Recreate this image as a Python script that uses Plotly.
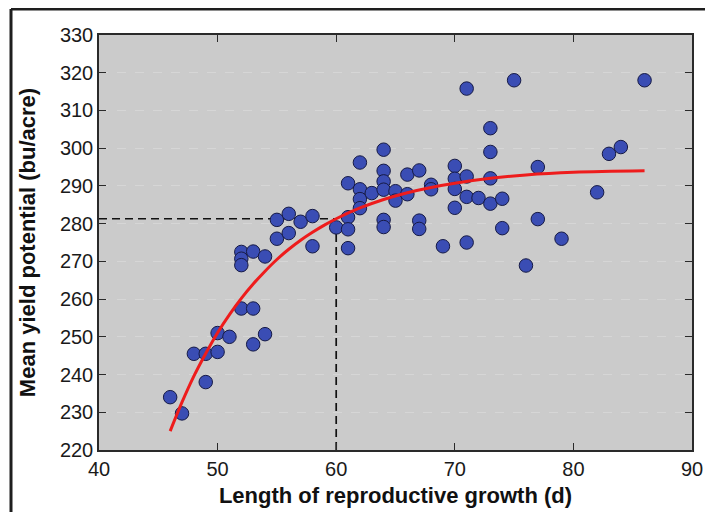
import plotly.graph_objects as go

growth_days = [46, 47, 48, 49, 49, 50, 50, 51,
               52, 52, 52, 52, 53, 53, 53, 54, 54,
               55, 55, 56, 56, 57, 58, 58, 60,
               61, 61, 61, 61, 62, 62, 62, 62, 63,
               64, 64, 64, 64, 64, 64, 65, 65, 66, 66,
               67, 67, 67, 68, 68, 69,
               70, 70, 70, 70, 71, 71, 71, 71, 72,
               73, 73, 73, 73, 74, 74, 75, 76, 77, 77,
               79, 82, 83, 84, 86]
yield_potential = [234, 229.7, 245.5, 245.5, 238, 246, 251, 250,
                   257.5, 272.5, 270.7, 269, 257.5, 248, 272.6, 250.7, 271.3,
                   276, 281, 277.5, 282.6, 280.5, 282, 274, 279,
                   281.7, 278.5, 273.5, 290.7, 296.2, 289.1, 286.5, 284.1, 288.1,
                   299.6, 294, 291.2, 289, 281, 279.1, 288.6, 286.1, 293, 287.8,
                   294.1, 280.8, 278.6, 290.3, 289.1, 274,
                   295.3, 291.9, 289.2, 284.2, 315.8, 292.5, 287.1, 275, 286.8,
                   305.3, 299, 292, 285.3, 286.6, 278.8, 318, 268.9, 295, 281.2,
                   276, 288.3, 298.5, 300.3, 318]

# Fitted response curve
curve_x = [46, 47, 48, 49, 50, 51, 52, 53, 54, 55, 56, 57, 58, 59, 60,
           62, 64, 66, 68, 70, 73, 76, 80, 86]
curve_y = [225, 232.7, 239.6, 245.6, 251.1, 255.9, 260.2, 264.0, 267.4, 270.5,
           273.2, 275.6, 277.7, 279.6, 281.3, 284.15, 286.4, 288.2, 289.6, 290.7,
           292.0, 292.9, 293.6, 294.0]

# Reference (threshold) guide lines
guide_h_x = [40, 60]
guide_h_y = [281.3, 281.3]
guide_v_x = [60, 60]
guide_v_y = [220, 281.3]

x_ticks = [40, 50, 60, 70, 80, 90]
y_ticks = [220, 230, 240, 250, 260, 270, 280, 290, 300, 310, 320, 330]

FONT = "Liberation Sans, Arial, sans-serif"

fig = go.Figure()

fig.add_trace(go.Scatter(x=guide_h_x, y=guide_h_y, mode="lines",
                         line=dict(color="#111111", width=1.7, dash="8px,5px"),
                         hoverinfo="skip", showlegend=False))
fig.add_trace(go.Scatter(x=guide_v_x, y=guide_v_y, mode="lines",
                         line=dict(color="#111111", width=1.7, dash="8px,5px"),
                         hoverinfo="skip", showlegend=False))

fig.add_trace(go.Scatter(x=growth_days, y=yield_potential, mode="markers",
                         marker=dict(size=13.5, color="#3a4db4",
                                     line=dict(color="#161a45", width=1)),
                         showlegend=False))

fig.add_trace(go.Scatter(x=curve_x, y=curve_y, mode="lines",
                         line=dict(color="#ee1c1c", width=3, shape="spline"),
                         showlegend=False))

axis_common = dict(
    showline=True, linecolor="#2a2a2a", linewidth=1.5, mirror="ticks",
    ticks="inside", ticklen=7, tickwidth=1.3, tickcolor="#2a2a2a",
    zeroline=False, automargin=False,
    tickfont=dict(family=FONT, size=20, color="#1a1a1a"),
)

fig.update_xaxes(range=[40, 90], tickvals=x_ticks, showgrid=False,
                 title=dict(text="<b>Length of reproductive growth (d)</b>",
                            font=dict(family=FONT, size=22, color="#111111"),
                            standoff=9),
                 **axis_common)
fig.update_yaxes(range=[220, 330], tickvals=y_ticks, showgrid=True,
                 gridcolor="rgba(255,255,255,0.22)", griddash="dash", gridwidth=1,
                 title=dict(text="<b>Mean yield potential (bu/acre)</b>",
                            font=dict(family=FONT, size=22, color="#111111"),
                            standoff=18),
                 **axis_common)

# Outer frame of the figure (top and left edges visible in the reference)
fig.add_shape(type="line", xref="paper", yref="paper",
              x0=-0.1484, x1=1.1, y0=1.0627, y1=1.0627,
              line=dict(color="#1e1e1e", width=3))
fig.add_shape(type="line", xref="paper", yref="paper",
              x0=-0.1484, x1=-0.1484, y0=1.0627, y1=-0.3,
              line=dict(color="#1e1e1e", width=3))

# The page body adds an 8px offset; margins compensate so the plot area
# lands where it sits in the reference.
fig.update_layout(
    width=713, height=512,
    margin=dict(l=91, r=29, t=27, b=70),
    paper_bgcolor="white",
    plot_bgcolor="#cbcbcb",
    showlegend=False,
)

fig.write_html("out.html")
